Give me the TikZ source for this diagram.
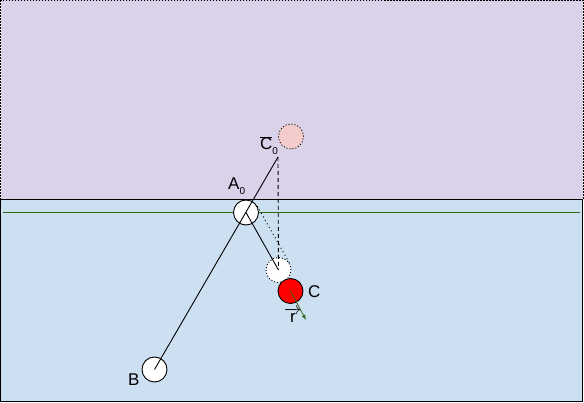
\documentclass[tikz,border=0pt]{standalone}
\usepackage{fontspec}
\setmainfont{Liberation Sans}
\usetikzlibrary{positioning,arrows}

\definecolor{airfill}{RGB}{218,210,232}
\definecolor{waterfill}{RGB}{205,224,241}
\definecolor{ghostpink}{RGB}{244,204,204}
\definecolor{levelgreen}{RGB}{50,105,25}

\begin{document}
\begin{tikzpicture}[
		  x=1pt,y=-1pt,
		  font=\fontsize{17}{20}\selectfont,
		  ball/.style={draw,circle,minimum size=25pt,inner sep=0pt,line width=0.9pt},
		  ghostball/.style={ball,dash pattern=on 1pt off 2pt},
		  lbl/.style={inner sep=0pt,anchor=base west}
		]
		\useasboundingbox (0,0) rectangle (584,403);
		% air and water
		\filldraw[fill=airfill,line width=1pt,dash pattern=on 1.5pt off 1.5pt] (0.5,0.5) rectangle (583,200);
		\filldraw[fill=waterfill,line width=1pt] (0.5,200) rectangle (582.5,401.5);
		\draw[levelgreen,line width=1pt] (3,213) -- (580,213);
		% balls
		\node[ghostball,fill=ghostpink] (Czero) at (291,136.5) {};
		\node[ball,fill=white] (A0) at (246,212.5) {};
		\node[ghostball,fill=white] (Cstart) at (278.5,270) {};
		\node[ball,fill=red] (C) at (290.5,291) {};
		\node[ball,fill=white] (B) at (154.5,369.5) {};
		\coordinate (Ctop) at (278,157);
		\coordinate (Rtip) at (306,320);
		% connectors
		\path[line width=0.9pt] (Ctop) edge (B.center)
			(A0.center) edge (Cstart.center)
			(Ctop) edge[dash pattern=on 4pt off 3pt] (Cstart.center)
			(A0.30) edge[dash pattern=on 1pt off 3pt] (Cstart.30);
		\path (C.center) edge[-latex,levelgreen,line width=0.8pt] (Rtip);
		% labels
		\node[lbl] (A0lbl) at (228,190) {A\raisebox{-5pt}{\fontsize{10}{10}\selectfont 0}};
		\node[lbl] (Czerolbl) at (260,150) {$\overline{\hbox{C}}$\raisebox{-5pt}{\fontsize{10}{10}\selectfont 0}};
		\node[lbl] (Blbl) at (128,385) {B};
		\node[lbl] (Clbl) at (308,297.5) {C};
		\node[lbl] (Rlbl) at (284,323) {$\overrightarrow{\hbox{r}}$};
		\end{tikzpicture}
\end{document}
